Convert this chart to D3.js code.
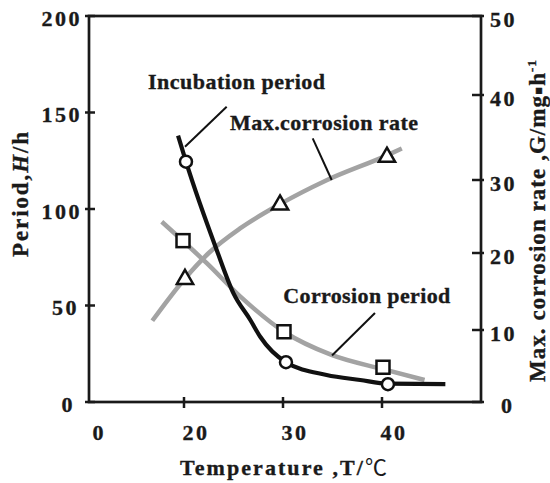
<!DOCTYPE html>
<html><head><meta charset="utf-8">
<script src="https://cdn.jsdelivr.net/npm/d3@7"></script>
<style>
body{margin:0;background:#fff}
svg{display:block}
text{font-family:"Liberation Serif","Times New Roman",serif;font-weight:bold;fill:#1a1a1a;stroke:#1a1a1a;stroke-width:0.35px}
</style>
</head><body>
<svg id="c" width="550" height="483"></svg>
<script>
// ---- data ----
const xTickValues = [20, 30, 40];
const xLabelValues = [0, 20, 30, 40];
const leftTickValues = [0, 50, 100, 150, 200];
const rightTickValues = [0, 10, 20, 30, 40, 50];

// Incubation period (black, circles, left axis)
const incubationCurveT = [19.4, 20.2, 23.3, 25.0, 26.7, 27.7, 30.3, 34.4, 37.8, 40.6, 46.4];
const incubationCurveV = [138, 124.5, 78.8, 56.3, 42.5, 33.8, 20.6, 14.0, 11.4, 9.5, 9.3];
const incubationPointT = [20.2, 30.3, 40.6];
const incubationPointV = [124.5, 20.6, 9.2];

// Corrosion period (grey, squares, left axis)
const periodCurveT = [17.75, 22.3, 25.7, 30.1, 34.9, 40.1, 44.3];
const periodCurveV = [93.4, 71.9, 54.6, 36.4, 24.4, 17.0, 11.4];
const periodPointT = [19.9, 30.1, 40.1];
const periodPointV = [83.6, 36.4, 18.0];

// Max. corrosion rate (grey, triangles, right axis)
const rateCurveT = [16.8, 20.1, 22.5, 25.7, 29.7, 34.3, 40.5, 42.0];
const rateCurveV = [11.2, 16.7, 20.0, 23.4, 26.7, 29.9, 32.9, 33.7];
const ratePointT = [20.1, 29.7, 40.5];
const ratePointV = [16.6, 26.6, 32.7];

// annotations (data units)
const labelNames = ["Incubation period", "Max.corrosion rate", "Corrosion period"];
const labelT = [16.36, 24.65, 30.03];
const labelV = [162.2, 140.9, 51.3];
const labelLen = [177, 188, 167];
const incubationLeaderT = [24.31, 20.1], incubationLeaderV = [153, 132.3];
const periodLeaderT = [39.29, 34.95], periodLeaderV = [46.1, 24.1];
const rateLeaderT = [33.0, 34.92], rateLeaderV = [34.9, 30.0];

// ---- layout ----
const L = 89, R = 481, T = 16, B = 402;
const svg = d3.select("#c");

const x = d3.scaleLinear().domain([0, 15, 50]).range([94, 134.5, R]);
const yL = d3.scaleLinear().domain([0, 200]).range([B, T]);
const yR = d3.scaleLinear().domain([0, 10, 20, 30, 40, 50]).range([B, 330, 253, 180, 95, T]);

const INK = "#1a1a1a", GREY = "#a3a3a3";

// frame
svg.append("rect").attr("x", L).attr("y", T).attr("width", R - L).attr("height", B - T)
  .attr("fill", "none").attr("stroke", INK).attr("stroke-width", 2.7);

// left ticks
svg.selectAll(".lt").data(leftTickValues).join("line")
  .attr("x1", L - 4).attr("x2", L + 6).attr("y1", d => yL(d)).attr("y2", d => yL(d))
  .attr("stroke", INK).attr("stroke-width", 2.5);
svg.selectAll(".ll").data(leftTickValues).join("text")
  .attr("x", d => { const n = String(d).length; return n === 3 ? 82 : n === 2 ? 79 : 75; })
  .attr("y", d => yL(d) + 9.5).attr("text-anchor", "end")
  .attr("font-size", 22).attr("letter-spacing", 2.5).text(d => d);

// right ticks
svg.selectAll(".rt").data(rightTickValues).join("line")
  .attr("x1", R - 9).attr("x2", R + 3).attr("y1", d => yR(d)).attr("y2", d => yR(d))
  .attr("stroke", INK).attr("stroke-width", 2.5);
svg.selectAll(".rl").data(rightTickValues).join("text")
  .attr("x", d => d === 0 ? 501 : 490).attr("y", d => yR(d) + 10.5)
  .attr("font-size", 22).attr("letter-spacing", 2.5).text(d => d);

// bottom ticks
svg.selectAll(".bt").data(xTickValues).join("line")
  .attr("x1", d => x(d)).attr("x2", d => x(d)).attr("y1", B - 5).attr("y2", B + 6)
  .attr("stroke", INK).attr("stroke-width", 2.5);
svg.selectAll(".bl").data(xLabelValues).join("text")
  .attr("x", d => x(d) - 1.5).attr("y", 440)
  .attr("font-size", 22).attr("letter-spacing", 2.5).text(d => d);

// axis titles
const xt = svg.append("text").attr("x", 180).attr("y", 475).attr("font-size", 22)
  .attr("textLength", 207).attr("lengthAdjust", "spacing");
xt.append("tspan").text("Temperature ,T/");
xt.append("tspan").attr("font-family", "'Noto Sans CJK JP','DejaVu Sans',sans-serif")
  .attr("font-weight", "normal").attr("stroke-width", 0).text("℃");

const lt = svg.append("text").attr("transform", "translate(28,257) rotate(-90)")
  .attr("font-size", 23).attr("textLength", 125).attr("lengthAdjust", "spacing");
lt.append("tspan").text("Period,");
lt.append("tspan").attr("font-style", "italic").text("H");
lt.append("tspan").text("/h");

const rt = svg.append("text").attr("transform", "translate(545,382) rotate(-90)")
  .attr("font-size", 23).attr("textLength", 322).attr("lengthAdjust", "spacing");
rt.append("tspan").text("Max. corrosion rate ,G/mg");
rt.append("tspan").attr("font-family", "'DejaVu Sans',sans-serif").attr("font-size", 12).attr("dy", -3).text("▪");
rt.append("tspan").attr("dy", 3).text("h");
rt.append("tspan").attr("font-size", 13).attr("dy", -9).text("-1");

// curves
const lineL = d3.line().x(d => x(d[0])).y(d => yL(d[1])).curve(d3.curveMonotoneX);
const lineR = d3.line().x(d => x(d[0])).y(d => yR(d[1])).curve(d3.curveMonotoneX);
const zip = (a, b) => a.map((v, i) => [v, b[i]]);

svg.append("path").attr("d", lineR(zip(rateCurveT, rateCurveV)))
  .attr("fill", "none").attr("stroke", GREY).attr("stroke-width", 4.5);
svg.append("path").attr("d", lineL(zip(periodCurveT, periodCurveV)))
  .attr("fill", "none").attr("stroke", GREY).attr("stroke-width", 4.5);
svg.append("path").attr("d", lineL(zip(incubationCurveT, incubationCurveV)))
  .attr("fill", "none").attr("stroke", "#111").attr("stroke-width", 4.2);

// leaders
const leader = (ts, vs, ys) => svg.append("line")
  .attr("x1", x(ts[0])).attr("y1", ys(vs[0])).attr("x2", x(ts[1])).attr("y2", ys(vs[1]))
  .attr("stroke", "#111").attr("stroke-width", 2);
leader(incubationLeaderT, incubationLeaderV, yL);
leader(periodLeaderT, periodLeaderV, yL);
leader(rateLeaderT, rateLeaderV, yR);

// labels
svg.selectAll(".lab").data(labelNames).join("text")
  .attr("x", (d, i) => x(labelT[i])).attr("y", (d, i) => yL(labelV[i]))
  .attr("font-size", 22).attr("textLength", (d, i) => labelLen[i]).attr("lengthAdjust", "spacing")
  .text(d => d);

// markers
svg.selectAll(".circ").data(zip(incubationPointT, incubationPointV)).join("circle")
  .attr("cx", d => x(d[0])).attr("cy", d => yL(d[1])).attr("r", 6)
  .attr("fill", "#fff").attr("stroke", "#111").attr("stroke-width", 2.5);
svg.selectAll(".sq").data(zip(periodPointT, periodPointV)).join("rect")
  .attr("x", d => x(d[0]) - 6.5).attr("y", d => yL(d[1]) - 6.5).attr("width", 13).attr("height", 13)
  .attr("fill", "#fff").attr("stroke", "#111").attr("stroke-width", 2.5);
const tri = d3.symbol().type(d3.symbolTriangle).size(115);
svg.selectAll(".tri").data(zip(ratePointT, ratePointV)).join("path")
  .attr("d", tri).attr("transform", d => `translate(${x(d[0])},${yR(d[1])})`)
  .attr("fill", "#fff").attr("stroke", "#111").attr("stroke-width", 2.5);
</script>
</body></html>
